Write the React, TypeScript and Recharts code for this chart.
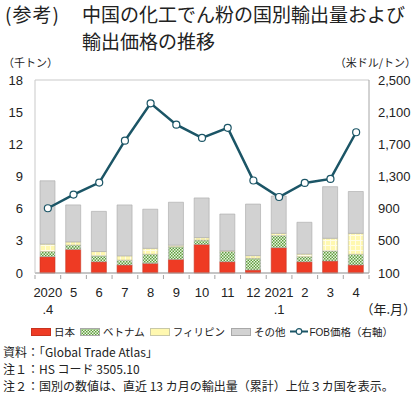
import {
  ComposedChart,
  Bar,
  Line,
  XAxis,
  YAxis,
  CartesianGrid,
} from "recharts";

const months = [
  "2020.4", "2020.5", "2020.6", "2020.7", "2020.8", "2020.9", "2020.10",
  "2020.11", "2020.12", "2021.1", "2021.2", "2021.3", "2021.4",
];
const tickTop = ["2020", "5", "6", "7", "8", "9", "10", "11", "12", "2021", "2", "3", "4"];
const tickBottom = [".4", "", "", "", "", "", "", "", "", ".1", "", "", ""];

// 千トン
const japan = [1.52, 2.2, 1.05, 0.75, 0.9, 1.27, 2.67, 1.05, 0.28, 2.36, 1.05, 1.12, 0.75];
const vietnam = [0.48, 0.4, 0.55, 0.45, 0.85, 1.18, 0.4, 0.95, 1.09, 1.12, 0.47, 0.93, 0.99];
const philippines = [0.7, 0.3, 0.4, 0.4, 0.55, 0.15, 0.23, 0.08, 0.25, 0.22, 0.25, 1.19, 1.96];
const others = [5.9, 3.45, 3.75, 4.75, 3.65, 4.0, 3.7, 3.42, 4.81, 3.48, 2.96, 4.81, 3.9];
// 米ドル/トン
const fob = [905, 1075, 1225, 1745, 2210, 1945, 1780, 1905, 1250, 1045, 1220, 1270, 1850];

const leftTicks = [0, 3, 6, 9, 12, 15, 18];
const rightTicks = [100, 500, 900, 1300, 1700, 2100, 2500];

const data = months.map((m, i) => ({
  month: m,
  japan: japan[i],
  vietnam: vietnam[i],
  philippines: philippines[i],
  others: others[i],
  fob: fob[i],
}));

const JP = '"Noto Sans CJK JP", sans-serif';
const NUM = '"Liberation Sans", Arial, sans-serif';
const CHART_W = 420;
const LEFT_W = 35;
const RIGHT_W = 51;
const BAND = (CHART_W - LEFT_W - RIGHT_W) / months.length;

const MonthTick = (props: any) => {
  const { x, y, index } = props;
  return (
    <g>
      <line x1={x - BAND / 2} x2={x - BAND / 2} y1={y - 6} y2={y - 2} stroke="#A6A6A6" />
      {index === months.length - 1 && (
        <line x1={x + BAND / 2} x2={x + BAND / 2} y1={y - 6} y2={y - 2} stroke="#A6A6A6" />
      )}
      <text x={x} y={y + 16} textAnchor="middle" fontFamily={NUM} fontSize={13} fill="#222">
        {tickTop[index]}
      </text>
      {tickBottom[index] && (
        <text x={x} y={y + 33} textAnchor="middle" fontFamily={NUM} fontSize={13} fill="#222">
          {tickBottom[index]}
        </text>
      )}
    </g>
  );
};

const Swatch = ({ fill, border }: { fill: string; border: string }) => (
  <svg width={20} height={8} style={{ marginRight: 3 }}>
    <rect x={0.5} y={0.5} width={19} height={7} fill={fill} stroke={border} />
  </svg>
);

export default function App() {
  return (
    <div
      style={{
        position: "absolute",
        left: 0,
        top: 0,
        width: 420,
        height: 394,
        background: "#fff",
        fontFamily: JP,
        color: "#222",
        overflow: "hidden",
      }}
    >
      <div style={{ position: "absolute", left: 5, top: 0, fontSize: 19, lineHeight: "27px", letterSpacing: 1 }}>
        (参考)
      </div>
      <div style={{ position: "absolute", left: 82, top: 0, fontSize: 19, lineHeight: "27px", whiteSpace: "nowrap" }}>
        中国の化工でん粉の国別輸出量および
        <br />
        輸出価格の推移
      </div>
      <div style={{ position: "absolute", left: 3, top: 54, fontSize: 11 }}>（千トン）</div>
      <div style={{ position: "absolute", right: 4, top: 54, fontSize: 11 }}>（米ドル/トン）</div>

      <div style={{ position: "absolute", left: 0, top: 60 }}>
        <ComposedChart
          width={CHART_W}
          height={258}
          data={data}
          margin={{ top: 20, right: 0, bottom: 0, left: 0 }}
          barSize={15}
        >
          <defs>
            <pattern id="vnPat" width={3} height={3} patternUnits="userSpaceOnUse">
              <rect width={3} height={3} fill="#EAF5E0" />
              <rect width={1.5} height={1.5} fill="#5E9E3E" />
              <rect x={1.5} y={1.5} width={1.5} height={1.5} fill="#5E9E3E" />
            </pattern>
            <pattern id="phPat" width={5} height={5} patternUnits="userSpaceOnUse">
              <rect width={5} height={5} fill="#FFF8B0" />
              <path d="M0 0.5 H5 M0.5 0 V5" stroke="#FFFDE6" strokeWidth={1} />
            </pattern>
          </defs>
          <CartesianGrid vertical={false} stroke="#C9C9C9" />
          <XAxis
            dataKey="month"
            height={45}
            interval={0}
            tickLine={false}
            axisLine={{ stroke: "#A6A6A6" }}
            tick={<MonthTick />}
          />
          <YAxis
            yAxisId="left"
            width={LEFT_W}
            domain={[0, 18]}
            ticks={leftTicks}
            tickLine={false}
            tickSize={0}
            tickMargin={12}
            axisLine={{ stroke: "#C9C9C9" }}
            tick={{ fontFamily: NUM, fontSize: 13, fill: "#222" }}
          />
          <YAxis
            yAxisId="right"
            orientation="right"
            width={RIGHT_W}
            domain={[100, 2500]}
            ticks={rightTicks}
            tickLine={false}
            tickSize={0}
            tickMargin={9}
            axisLine={{ stroke: "#A6A6A6" }}
            tickFormatter={(v: number) => v.toLocaleString("en-US")}
            tick={{ fontFamily: NUM, fontSize: 13, fill: "#222", textAnchor: "start" }}
          />
          <Bar yAxisId="left" dataKey="japan" stackId="s" fill="#EE3B24" stroke="#C8321E" strokeWidth={0.6} isAnimationActive={false} />
          <Bar yAxisId="left" dataKey="vietnam" stackId="s" fill="url(#vnPat)" stroke="#A8A8A8" strokeWidth={0.6} isAnimationActive={false} />
          <Bar yAxisId="left" dataKey="philippines" stackId="s" fill="url(#phPat)" stroke="#B8B8A0" strokeWidth={0.6} isAnimationActive={false} />
          <Bar yAxisId="left" dataKey="others" stackId="s" fill="#D2D2D2" stroke="#A8A8A8" strokeWidth={0.6} isAnimationActive={false} />
          <Line
            yAxisId="right"
            dataKey="fob"
            type="linear"
            stroke="#1B5566"
            strokeWidth={2.5}
            dot={{ r: 3.5, fill: "#fff", stroke: "#1B5566", strokeWidth: 1.2 }}
            isAnimationActive={false}
          />
        </ComposedChart>
      </div>

      <div style={{ position: "absolute", right: 4, top: 299, fontSize: 13 }}>（年.月）</div>

      <div
        style={{
          position: "absolute",
          left: 0,
          width: 420,
          top: 324,
          display: "flex",
          justifyContent: "center",
          alignItems: "center",
          fontSize: 10.5,
          whiteSpace: "nowrap",
          paddingLeft: 4,
          boxSizing: "border-box",
        }}
      >
        <Swatch fill="#EE3B24" border="#C8321E" />
        <span style={{ marginRight: 5 }}>日本</span>
        <svg width={20} height={8} style={{ marginRight: 3 }}>
          <rect x={0.5} y={0.5} width={19} height={7} fill="url(#vnPat)" stroke="#A8A8A8" />
        </svg>
        <span style={{ marginRight: 5 }}>ベトナム</span>
        <svg width={20} height={8} style={{ marginRight: 3 }}>
          <rect x={0.5} y={0.5} width={19} height={7} fill="#FFF8B0" stroke="#C8C8A8" />
        </svg>
        <span style={{ marginRight: 6 }}>フィリピン</span>
        <Swatch fill="#D2D2D2" border="#A8A8A8" />
        <span style={{ marginRight: 5 }}>その他</span>
        <svg width={18} height={9} style={{ marginRight: 1 }}>
          <line x1={0} x2={18} y1={4.5} y2={4.5} stroke="#1B5566" strokeWidth={2} />
          <circle cx={9} cy={4.5} r={2.8} fill="#fff" stroke="#1B5566" strokeWidth={1.2} />
        </svg>
        <span>
          <span style={{ fontFamily: NUM, fontSize: 10 }}>FOB</span>価格（右軸）
        </span>
      </div>

      <div style={{ position: "absolute", left: 3, top: 343, fontSize: 12, lineHeight: "17px", whiteSpace: "nowrap" }}>
        <div>資料：「Global Trade Atlas」</div>
        <div>注１：HS コード 3505.10</div>
        <div>注２：国別の数値は、直近 13 カ月の輸出量（累計）上位３カ国を表示。</div>
      </div>
    </div>
  );
}
